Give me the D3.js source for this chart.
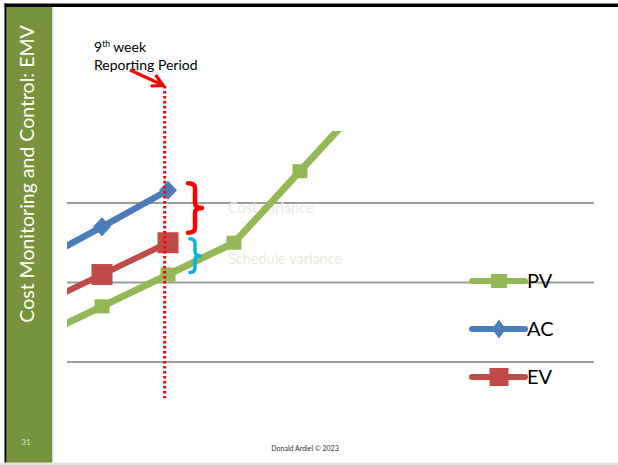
<!DOCTYPE html>
<html><head><meta charset="utf-8">
<script src="https://cdn.jsdelivr.net/npm/d3@7"></script>
<style>html,body{margin:0;padding:0;background:#fff;overflow:hidden}</style>
</head><body>
<script>
// ---- data ----
const weeks = [7, 8, 9, 10, 11, 12];
const pvValues = [13, 17, 21, 25, 34, 43];
const acWeeks = [7, 8, 9];
const acValues = [22.5, 27, 31.6];
const evWeeks = [7, 8, 9];
const evValues = [17, 21, 25];
const gridValues = [10, 20, 30];
const reportingWeek = 8.95;
const seriesNames = ["PV", "AC", "EV"];
const slideTitle = "Cost Monitoring and Control: EMV";
const pageNumber = "31";
const footerText = "Donald Ardiel © 2023";

const W = 618, H = 465;
const svg = d3.select("body").append("svg").attr("width", W).attr("height", H);

// slide frame
svg.append("rect").attr("x", 0).attr("y", 0).attr("width", W).attr("height", H).attr("fill", "#fff");
svg.append("rect").attr("x", 0).attr("y", 462.5).attr("width", W).attr("height", 2.5).attr("fill", "#e2e2e2");
svg.append("rect").attr("x", 4.5).attr("y", 3.5).attr("width", W - 4.5).attr("height", 3.5).attr("fill", "#000");
svg.append("rect").attr("x", 4.5).attr("y", 3.5).attr("width", 2.2).attr("height", 459).attr("fill", "#000");
svg.append("rect").attr("x", 6.7).attr("y", 7).attr("width", 45.5).attr("height", 455.5).attr("fill", "#77933c");
svg.append("rect").attr("x", 52.2).attr("y", 7).attr("width", 1).attr("height", 455.5).attr("fill", "#c9d6e3");

// sidebar title
svg.append("text")
  .attr("transform", "translate(33.5,174) rotate(-90)")
  .attr("text-anchor", "middle")
  .attr("font-family", "Lato, 'Open Sans', sans-serif")
  .attr("font-size", 19.5)
  .attr("fill", "#fff")
  .text(slideTitle);
svg.append("text").attr("x", 26).attr("y", 445).attr("text-anchor", "middle")
  .attr("font-family", "Lato, sans-serif").attr("font-size", 8).attr("fill", "#dfe8cf").text(pageNumber);
svg.append("text").attr("x", 305).attr("y", 450.5).attr("text-anchor", "middle")
  .attr("font-family", "Lato, sans-serif").attr("font-size", 7).attr("fill", "#333").text(footerText);

// ---- scales ----
const x = d3.scaleLinear().domain([9, 10]).range([168, 234]);
const y = d3.scaleLinear().domain([0, 10]).range([441.5, 362]);

const plot = { left: 67, right: 594, top: 131, bottom: 441.5 };
svg.append("clipPath").attr("id", "plotclip").append("rect")
  .attr("x", plot.left).attr("y", plot.top).attr("width", plot.right - plot.left).attr("height", plot.bottom - plot.top);

// gridlines
svg.append("g").selectAll("line").data(gridValues).join("line")
  .attr("x1", plot.left).attr("x2", plot.right)
  .attr("y1", d => y(d)).attr("y2", d => y(d))
  .attr("stroke", "#9c9c9c").attr("stroke-width", 2.2);

// annotation texts (behind series)
const i9 = acWeeks.indexOf(9);
const p9 = weeks.indexOf(9);
svg.append("text").attr("x", 228).attr("y", (y(acValues[i9]) + y(evValues[i9])) / 2 - 3.5)
  .attr("font-family", "Lato, sans-serif").attr("font-size", 14.5).attr("fill", "#ece9df").text("Cost variance");
svg.append("text").attr("x", 228).attr("y", (y(evValues[i9]) + y(pvValues[p9])) / 2 + 5)
  .attr("font-family", "Lato, sans-serif").attr("font-size", 14.5).attr("fill", "#ece9df").text("Schedule variance");

const colors = { PV: "#93b956", AC: "#4a7ebb", EV: "#be4b48" };
const line = d3.line().x(d => x(d[0])).y(d => y(d[1]));
const series = [
  { name: "PV", pts: weeks.map((w, i) => [w, pvValues[i]]), width: 7 },
  { name: "AC", pts: acWeeks.map((w, i) => [w, acValues[i]]), width: 6.5 },
  { name: "EV", pts: evWeeks.map((w, i) => [w, evValues[i]]), width: 6 }
];
const g = svg.append("g").attr("clip-path", "url(#plotclip)");

function marker(sel, name, cx, cy, legend) {
  if (name === "PV") {
    const w = legend ? 16 : 15, h = 14;
    sel.append("rect").attr("x", cx - w / 2).attr("y", cy - h / 2).attr("width", w).attr("height", h).attr("fill", colors.PV);
  } else if (name === "AC") {
    const rx = legend ? 7 : 9, ry = 9.5;
    sel.append("path").attr("d", `M${cx - rx},${cy} L${cx},${cy - ry} L${cx + rx},${cy} L${cx},${cy + ry} Z`).attr("fill", colors.AC);
  } else {
    const w = legend ? 19 : 21, h = legend ? 18 : 21;
    sel.append("rect").attr("x", cx - w / 2).attr("y", cy - h / 2).attr("width", w).attr("height", h).attr("fill", colors.EV);
  }
}

series.forEach(s => {
  g.append("path").datum(s.pts).attr("d", line).attr("fill", "none")
    .attr("stroke", colors[s.name]).attr("stroke-width", s.width)
    .attr("stroke-linejoin", "round");
  s.pts.forEach(p => marker(g, s.name, x(p[0]), y(p[1]), false));
});

// reporting period dotted line
svg.append("line").attr("x1", x(reportingWeek)).attr("x2", x(reportingWeek))
  .attr("y1", 86).attr("y2", 398)
  .attr("stroke", "#ff0000").attr("stroke-width", 3).attr("stroke-dasharray", "2.5,2.5");

// arrow
const ax = x(reportingWeek);
svg.append("path").attr("d", `M130,70 L${ax - 2},85`).attr("stroke", "#ff0000").attr("stroke-width", 3.2).attr("fill", "none");
svg.append("path").attr("d", `M${ax - 9},75 L${ax - 1.5},85.5 L${ax - 14},86`).attr("stroke", "#ff0000")
  .attr("stroke-width", 3.2).attr("fill", "none").attr("stroke-linejoin", "miter");

// annotation text top-left
const t1 = svg.append("text").attr("x", 94).attr("y", 52).attr("font-family", "Lato, 'Open Sans', sans-serif")
  .attr("font-size", 14).attr("fill", "#000");
t1.append("tspan").text("9");
t1.append("tspan").attr("font-size", 8.5).attr("dy", -5).text("th");
t1.append("tspan").attr("dy", 5).text(" week");
svg.append("text").attr("x", 94).attr("y", 70).attr("font-family", "Lato, 'Open Sans', sans-serif")
  .attr("font-size", 14).attr("fill", "#000").text("Reporting Period");

// braces
function brace(x0, y1, y2, w, color, sw) {
  const xc = x0 + w * 0.5, tip = x0 + w, mid = (y1 + y2) / 2, r = 5;
  const d = `M${x0},${y1} Q${xc},${y1} ${xc},${y1 + r} L${xc},${mid - r} Q${xc},${mid} ${tip},${mid} ` +
            `Q${xc},${mid} ${xc},${mid + r} L${xc},${y2 - r} Q${xc},${y2} ${x0},${y2}`;
  svg.append("path").attr("d", d).attr("fill", "none").attr("stroke", color).attr("stroke-width", sw)
    .attr("stroke-linecap", "round").attr("stroke-linejoin", "round");
}
const bx = x(9);
brace(bx + 20, y(acValues[i9]) - 7, y(evValues[i9]) - 10, 14, "#ff0000", 4.5);
brace(bx + 22, y(evValues[i9]) - 4, y(pvValues[p9]) - 2, 10, "#00b0f0", 3.5);

// legend
const legendY = { PV: 281, AC: 329, EV: 377 };
seriesNames.forEach(n => {
  const lg = svg.append("g");
  lg.append("line").attr("x1", 472).attr("x2", 525).attr("y1", legendY[n]).attr("y2", legendY[n])
    .attr("stroke", colors[n]).attr("stroke-width", 6).attr("stroke-linecap", "round");
  marker(lg, n, 499, legendY[n], true);
  lg.append("text").attr("x", 527).attr("y", legendY[n] + 7)
    .attr("font-family", "Lato, 'Open Sans', sans-serif").attr("font-size", 20).attr("fill", "#000").text(n);
});
</script>
</body></html>
